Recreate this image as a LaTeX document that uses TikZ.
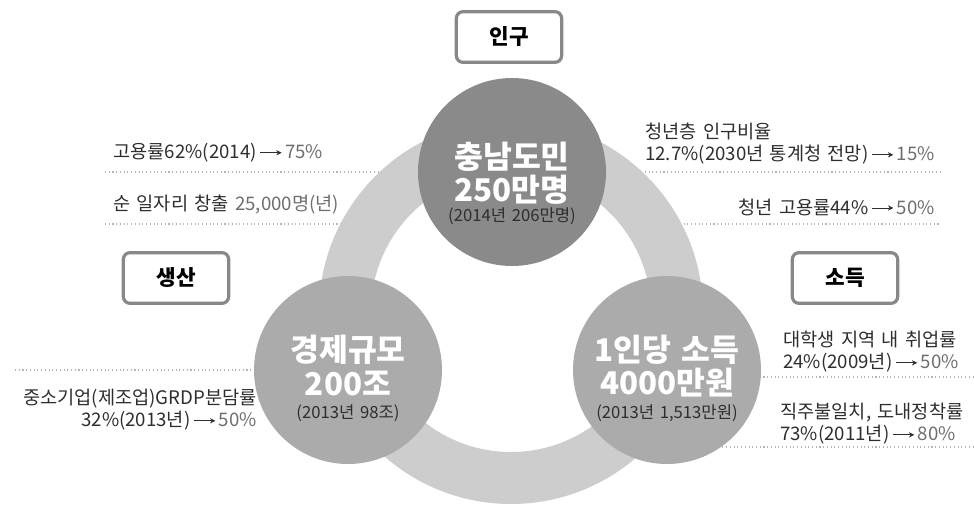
\documentclass[tikz,border=0pt]{standalone}
\usepackage{fontspec}
\setmainfont{Noto Sans CJK KR}[WordSpace=1.5]
\usepackage{xcolor}
\usepackage{tikz}
\usetikzlibrary{arrows.meta,positioning}
\definecolor{ringgray}{HTML}{CDCDCD}
\definecolor{topgray}{HTML}{8A8A8A}
\definecolor{sidegray}{HTML}{ABABAB}
\definecolor{boxrim}{HTML}{888888}
\definecolor{txtdark}{HTML}{2E2E2E}
\definecolor{txtlight}{HTML}{6E6E6E}
\definecolor{sepgray}{HTML}{B5B5B5}

% small arrow used inside the side notes
\newcommand{\goesto}{\,\tikz[baseline=-0.6ex]\draw[txtdark, line width=0.6pt,
  -{Stealth[length=4pt,width=4pt]}] (0pt,0pt) -- (16pt,0pt);\,}

\begin{document}
\begin{tikzpicture}[x=0.75pt, y=-0.75pt,
  disc/.style={circle, minimum size=141pt, inner sep=0pt},
  headline/.style={font=\bfseries\fontsize{23.5}{25}\selectfont, text=white, inner sep=0pt},
  subline/.style={font=\fontsize{12.5}{14}\selectfont, text=txtdark, inner sep=0pt},
  tagbox/.style={draw=boxrim, line width=2.4pt, rounded corners=5pt, fill=white,
    minimum width=79pt, minimum height=38pt, font=\bfseries\fontsize{16}{18}\selectfont},
  note/.style={font=\fontsize{14}{16.5}\selectfont, text=txtdark, inner sep=0pt},
  sep/.style={sepgray, dotted, line width=0.8pt}]

\useasboundingbox (0,0) rectangle (974,510);

% dotted separators, partly hidden by the ring
\draw[sep] (105,172) -- (420,172);
\draw[sep] (105,224) -- (360,224);
\draw[sep] (15,370) -- (270,370);
\draw[sep] (600,172) -- (940,172);
\draw[sep] (650,224) -- (940,224);
\draw[sep] (700,377) -- (974,377);
\draw[sep] (700,447) -- (974,447);

% the ring
\fill[ringgray, even odd rule] (511,312) circle (192) (511,312) circle (140);

% the three discs
\node[disc, fill=topgray] (pop) at (512,172) {};
\node[disc, fill=sidegray] (prod) at (348,370) {};
\node[disc, fill=sidegray] (inc) at (667,370) {};

\node[headline] (popa) at (512,157) {충남도민};
\node[headline] (popb) at (512,190) {250만명};
\node[subline] (popc) at (512,216) {(2014년 206만명)};

\node[headline] (proda) at (348,350) {경제규모};
\node[headline] (prodb) at (348,383) {200조};
\node[subline] (prodc) at (348,413) {(2013년 98조)};

\node[headline] (inca) at (667,350) {1인당 소득};
\node[headline] (incb) at (667,383) {4000만원};
\node[subline] (incc) at (667,413) {(2013년 1,513만원)};

% tag boxes
\node[tagbox] (popbox) at (509,37) {인구};
\node[tagbox] (prodbox) at (176,278) {생산};
\node[tagbox] (incbox) at (845,278) {소득};

% side notes
\node[note, anchor=west] (empl) at (113,153) {고용률62\%(2014)\goesto{\color{txtlight}75\%}};
\node[note, anchor=west] (jobs) at (113,205) {순 일자리 창출 {\color{txtlight}25,000명(년)}};
\node[note, anchor=west, align=left] (youth) at (645,144)
  {청년층 인구비율\\12.7\%(2030년 통계청 전망)\goesto{\color{txtlight}15\%}};
\node[note, anchor=east] (yempl) at (935,207) {청년 고용률44\%\goesto{\color{txtlight}50\%}};
\node[note, anchor=east, align=right] (smes) at (257,410)
  {중소기업(제조업)GRDP분담률\\32\%(2013년)\goesto{\color{txtlight}50\%}};
\node[note, anchor=west, align=left] (grads) at (783,352)
  {대학생 지역 내 취업률\\24\%(2009년)\goesto{\color{txtlight}50\%}};
\node[note, anchor=west, align=left] (settle) at (780,424)
  {직주불일치, 도내정착률\\73\%(2011년)\goesto{\color{txtlight}80\%}};

\end{tikzpicture}
\end{document}
